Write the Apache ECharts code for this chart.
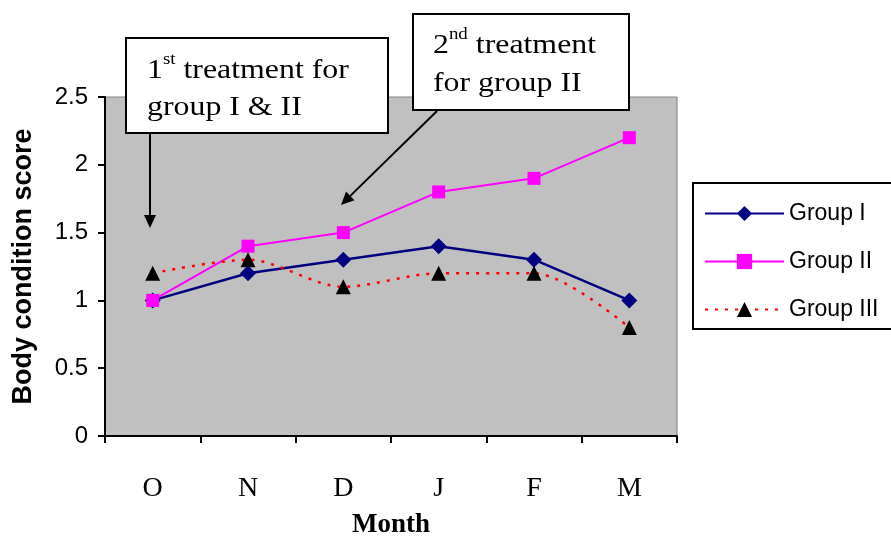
<!DOCTYPE html>
<html>
<head>
<meta charset="utf-8">
<script src="https://cdn.jsdelivr.net/npm/echarts@6/dist/echarts.min.js"></script>
<style>
  html, body { margin: 0; padding: 0; background: #fff; }
  #chart { width: 891px; height: 536px; }
</style>
</head>
<body>
<div id="chart"></div>
<script>
const months = ['O', 'N', 'D', 'J', 'F', 'M']
const groupI = [1.0, 1.2, 1.3, 1.4, 1.3, 1.0]
const groupII = [1.0, 1.4, 1.5, 1.8, 1.9, 2.2]
const groupIII = [1.2, 1.3, 1.1, 1.2, 1.2, 0.8]
const yTicks = { min: 0, max: 2.5, interval: 0.5 }

const serif = '"Liberation Serif", "Times New Roman", serif'
const sans = '"Liberation Sans", Arial, sans-serif'

// arrow: line plus a filled head at the tip
function arrow(x1, y1, x2, y2) {
  const ang = Math.atan2(y2 - y1, x2 - x1)
  const len = 13, half = 6
  const bx = x2 - len * Math.cos(ang), by = y2 - len * Math.sin(ang)
  const px = -Math.sin(ang) * half, py = Math.cos(ang) * half
  return [
    { type: 'line', z: 100, shape: { x1, y1, x2: bx, y2: by }, style: { stroke: '#000', lineWidth: 2 } },
    { type: 'polygon', z: 100, shape: { points: [[x2, y2], [bx + px, by + py], [bx - px, by - py]] }, style: { fill: '#000' } }
  ]
}

const noteRich = {
  n: { fontSize: 27, fontFamily: serif, color: '#000' },
  s: { fontSize: 16, fontFamily: serif, color: '#000', verticalAlign: 'top', padding: [0, 0, 12, 0] }
}

const chart = echarts.init(document.getElementById('chart'))

chart.setOption({
  animation: false,
  backgroundColor: '#fff',
  grid: {
    left: 105, right: 214, top: 97, bottom: 100,
    outerBoundsMode: 'none',
    containLabel: false,
    show: true, backgroundColor: '#C0C0C0', borderColor: '#808080', borderWidth: 1
  },
  legend: {
    orient: 'vertical',
    left: 693, top: 183,
    padding: [19, 30, 8, 11],
    itemGap: 25,
    itemWidth: 79,
    itemHeight: 19,
    borderColor: '#000',
    borderWidth: 2,
    textStyle: { fontFamily: sans, fontSize: 23, color: '#000' },
    data: ['Group I', 'Group II', 'Group III']
  },
  xAxis: {
    type: 'category',
    data: months,
    boundaryGap: true,
    name: 'Month',
    nameLocation: 'middle',
    nameGap: 76,
    nameTextStyle: { fontFamily: serif, fontSize: 27, fontWeight: 'bold', color: '#000' },
    axisLine: { lineStyle: { color: '#000', width: 2 } },
    axisTick: { show: true, interval: 0, length: 7, lineStyle: { color: '#000', width: 2 } },
    axisLabel: { margin: 39, fontFamily: serif, fontSize: 28, color: '#000', interval: 0 },
    splitLine: { show: false }
  },
  yAxis: {
    type: 'value',
    min: yTicks.min, max: yTicks.max, interval: yTicks.interval,
    name: 'Body condition score',
    nameLocation: 'middle',
    nameGap: 68,
    nameTextStyle: { fontFamily: sans, fontSize: 27, fontWeight: 'bold', color: '#000' },
    axisLine: { show: true, lineStyle: { color: '#000', width: 2 } },
    axisTick: { show: true, length: 7, lineStyle: { color: '#000', width: 2 } },
    axisLabel: { margin: 17, fontFamily: sans, fontSize: 24, color: '#000', formatter: v => String(v) },
    splitLine: { show: false }
  },
  series: [
    {
      name: 'Group I', type: 'line', data: groupI,
      symbol: 'diamond', symbolSize: 16,
      lineStyle: { color: '#000080', width: 2.5 },
      itemStyle: { color: '#000080' }
    },
    {
      name: 'Group II', type: 'line', data: groupII,
      symbol: 'rect', symbolSize: 13,
      lineStyle: { color: '#FF00FF', width: 2 },
      itemStyle: { color: '#FF00FF' }
    },
    {
      name: 'Group III', type: 'line', data: groupIII,
      symbol: 'triangle', symbolSize: 15,
      smooth: 0.3,
      lineStyle: { color: '#FF0000', width: 2.5, type: [3, 7] },
      itemStyle: { color: '#000' }
    }
  ],
  graphic: [
    { type: 'rect', z: 90, shape: { x: 126, y: 38, width: 262, height: 95 }, style: { fill: '#fff', stroke: '#000', lineWidth: 2 } },
    { type: 'text', z: 91, x: 147, y: 52, scaleX: 1.18, style: { text: '{n|1}{s|st}{n| treatment for}\n{n|group I & II}', rich: noteRich, lineHeight: 37 } },
    { type: 'rect', z: 90, shape: { x: 413, y: 14, width: 216, height: 96 }, style: { fill: '#fff', stroke: '#000', lineWidth: 2 } },
    { type: 'text', z: 91, x: 433, y: 27, scaleX: 1.18, style: { text: '{n|2}{s|nd}{n| treatment}\n{n|for group II}', rich: noteRich, lineHeight: 38 } },
    ...arrow(150, 134, 150, 228),
    ...arrow(437, 111, 341, 205)
  ]
})
</script>
</body>
</html>
